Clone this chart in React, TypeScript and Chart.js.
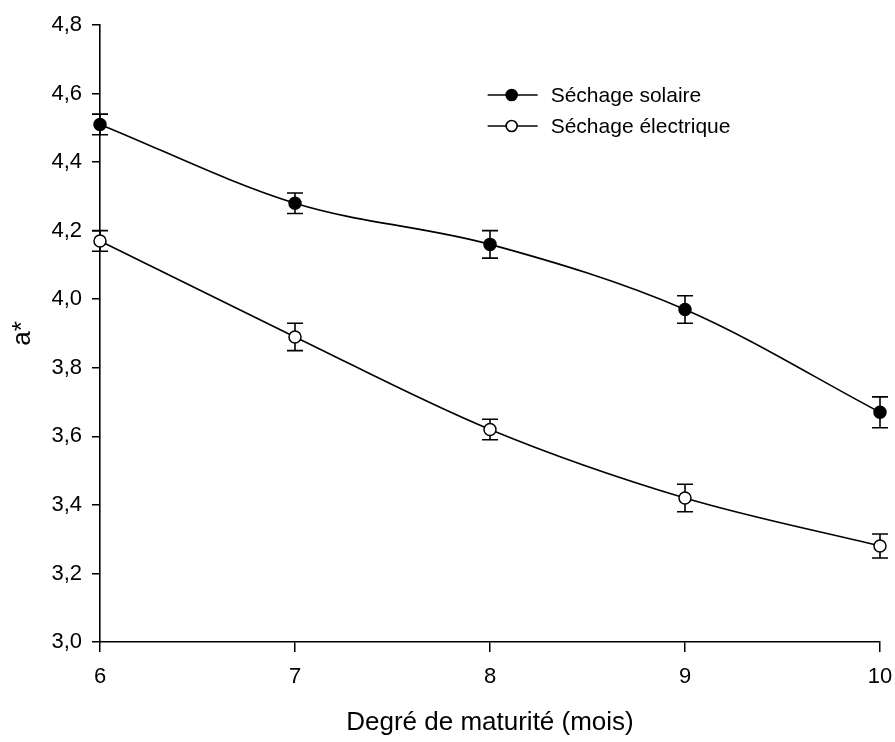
import React, { useEffect, useRef } from 'react';
import { Chart, registerables } from 'chart.js';

Chart.register(...registerables);

const MONTHS = [6, 7, 8, 9, 10];
const SOLAR = [4.51, 4.28, 4.16, 3.97, 3.67];
const SOLAR_ERR = [0.03, 0.03, 0.04, 0.04, 0.045];
const ELEC = [4.17, 3.89, 3.62, 3.42, 3.28];
const ELEC_ERR = [0.03, 0.04, 0.03, 0.04, 0.035];
const SERIES_LABELS = ['Séchage solaire', 'Séchage électrique'];
const X_TITLE = 'Degré de maturité (mois)';
const Y_TITLE = 'a*';

const FONT = "'Liberation Sans', Arial, Helvetica, sans-serif";
const ERRORS = [SOLAR_ERR, ELEC_ERR];

const errorBarPlugin = {
  id: 'errorBars',
  beforeDatasetsDraw(chart: any) {
    const ctx = chart.ctx;
    const yScale = chart.scales.y;
    ctx.save();
    ctx.strokeStyle = '#000';
    ctx.lineWidth = 1.6;
    chart.data.datasets.forEach((ds: any, di: number) => {
      const meta = chart.getDatasetMeta(di);
      meta.data.forEach((pt: any, i: number) => {
        const v = ds.data[i].y;
        const e = ERRORS[di][i];
        const yTop = yScale.getPixelForValue(v + e);
        const yBot = yScale.getPixelForValue(v - e);
        const x = pt.x;
        const cap = 8;
        ctx.beginPath();
        ctx.moveTo(x, yTop);
        ctx.lineTo(x, yBot);
        ctx.moveTo(x - cap, yTop);
        ctx.lineTo(x + cap, yTop);
        ctx.moveTo(x - cap, yBot);
        ctx.lineTo(x + cap, yBot);
        ctx.stroke();
      });
    });
    ctx.restore();
  },
};

const legendPlugin = {
  id: 'lineLegend',
  afterDraw(chart: any) {
    const ctx = chart.ctx;
    const ca = chart.chartArea;
    const x0 = ca.left + 0.497 * (ca.right - ca.left);
    const y0 = ca.top + 0.1135 * (ca.bottom - ca.top);
    const gap = 31;
    const lineLen = 50;
    ctx.save();
    chart.data.datasets.forEach((ds: any, i: number) => {
      const y = y0 + i * gap;
      ctx.strokeStyle = '#000';
      ctx.lineWidth = 1.6;
      ctx.beginPath();
      ctx.moveTo(x0, y);
      ctx.lineTo(x0 + lineLen, y);
      ctx.stroke();
      ctx.beginPath();
      ctx.arc(x0 + 24, y, 5.5, 0, Math.PI * 2);
      ctx.fillStyle = ds.pointBackgroundColor;
      ctx.fill();
      ctx.stroke();
      ctx.fillStyle = '#000';
      ctx.font = `21px ${FONT}`;
      ctx.textAlign = 'left';
      ctx.textBaseline = 'middle';
      ctx.fillText(ds.label, x0 + lineLen + 13, y + 1);
    });
    ctx.restore();
  },
};

export default function App() {
  const ref = useRef<HTMLCanvasElement | null>(null);

  useEffect(() => {
    if (!ref.current) return;
    const mk = (vals: number[]) => MONTHS.map((x, i) => ({ x, y: vals[i] }));
    const common = {
      borderColor: '#000',
      borderWidth: 1.6,
      pointRadius: 6,
      pointBorderWidth: 1.5,
      pointBorderColor: '#000',
      cubicInterpolationMode: 'monotone',
      fill: false,
      clip: false,
    };
    const chart = new Chart(ref.current, {
      type: 'line',
      data: {
        datasets: [
          { ...common, label: SERIES_LABELS[0], data: mk(SOLAR), pointBackgroundColor: '#000' },
          { ...common, label: SERIES_LABELS[1], data: mk(ELEC), pointBackgroundColor: '#fff' },
        ],
      },
      options: {
        animation: false,
        responsive: false,
        devicePixelRatio: 1,
        layout: { padding: { top: 25, right: 15, left: 0, bottom: 0 } },
        plugins: {
          legend: { display: false },
          tooltip: { enabled: false },
        },
        scales: {
          x: {
            type: 'linear',
            min: 6,
            max: 10,
            afterFit: (s: any) => {
              s.height = 100;
              s.paddingLeft = 0;
              s.paddingRight = 0;
            },
            ticks: {
              stepSize: 1,
              color: '#000',
              padding: 12,
              font: { family: FONT, size: 22 },
              callback: (v: any) => String(v),
            },
            grid: {
              display: true,
              drawOnChartArea: false,
              drawTicks: true,
              tickLength: 10,
              color: '#000',
              lineWidth: 1.5,
            },
            border: { display: true, color: '#000', width: 1.6 },
            title: {
              display: true,
              text: X_TITLE,
              color: '#000',
              font: { family: FONT, size: 26 },
              padding: { top: 0, bottom: 4 },
            },
          },
          y: {
            type: 'linear',
            min: 3,
            max: 4.8,
            afterFit: (s: any) => {
              s.width = 100;
              s.paddingTop = 0;
              s.paddingBottom = 0;
            },
            ticks: {
              stepSize: 0.2,
              color: '#000',
              padding: 10,
              font: { family: FONT, size: 22 },
              callback: (v: any) => Number(v).toFixed(1).replace('.', ','),
            },
            grid: {
              display: true,
              drawOnChartArea: false,
              drawTicks: true,
              tickLength: 8,
              color: '#000',
              lineWidth: 1.5,
            },
            border: { display: true, color: '#000', width: 1.6 },
            title: {
              display: true,
              text: Y_TITLE,
              color: '#000',
              font: { family: FONT, size: 26 },
              padding: { top: 7, bottom: 0 },
            },
          },
        },
      },
      plugins: [errorBarPlugin, legendPlugin],
    } as any);
    return () => chart.destroy();
  }, []);

  return (
    <div style={{ position: 'absolute', left: 0, top: 0, width: 895, height: 742, background: '#fff' }}>
      <canvas ref={ref} width={895} height={742} style={{ width: 895, height: 742, display: 'block' }} />
    </div>
  );
}
